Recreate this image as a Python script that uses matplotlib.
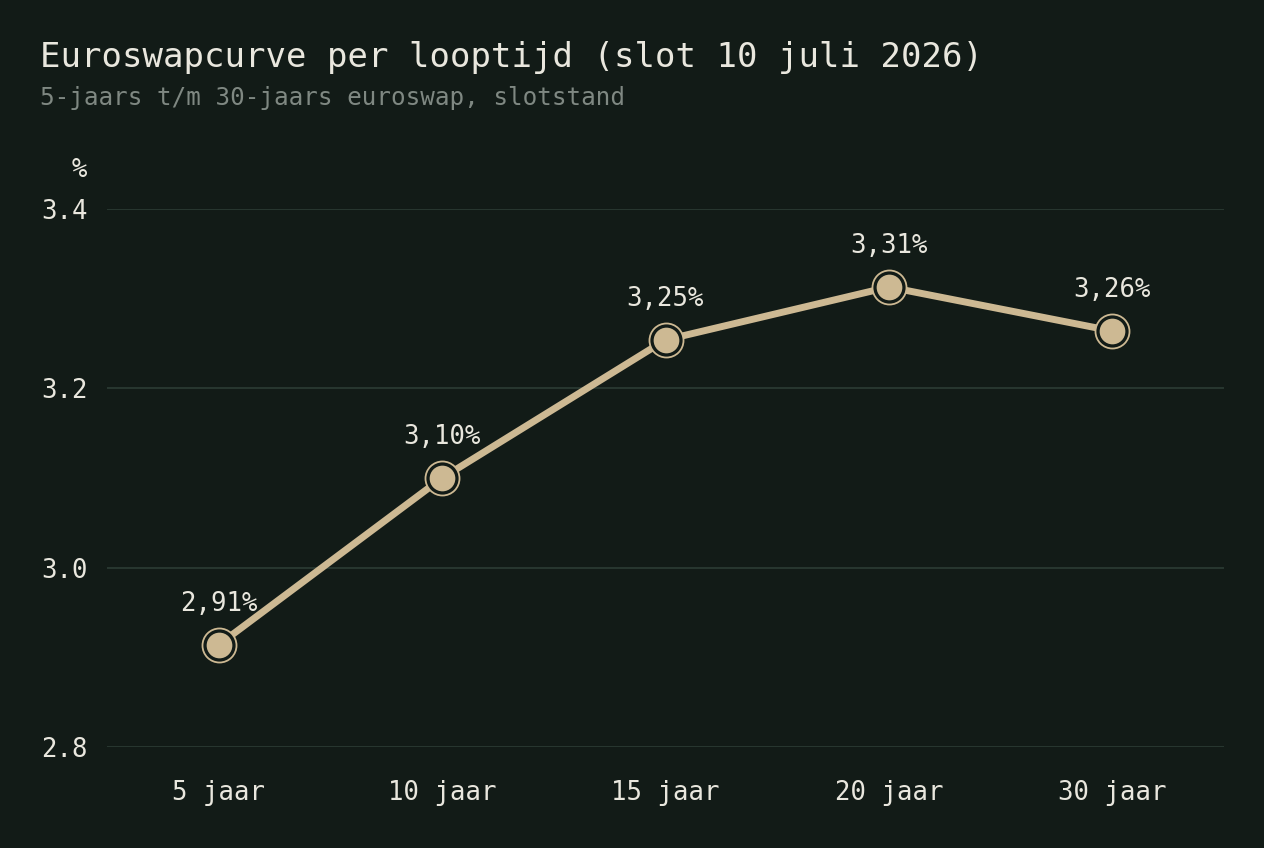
import matplotlib
matplotlib.use("Agg")
import matplotlib.pyplot as plt

# =========================================================
# DATA
# =========================================================
maturities = ["5 jaar", "10 jaar", "15 jaar", "20 jaar", "30 jaar"]
swap_rates = [2.914, 3.100, 3.254, 3.313, 3.264]
y_ticks = [2.8, 3.0, 3.2, 3.4]

TITLE = "Euroswapcurve per looptijd (slot 10 juli 2026)"
SUBTITLE = "5-jaars t/m 30-jaars euroswap, slotstand"

# =========================================================
# STYLE
# =========================================================
BG = "#121b17"
TAN = "#cdb993"
TEXT = "#e9e7de"
SUBTEXT = "#7f8882"
GRID = "#2c3c34"

plt.rcParams.update({
    "font.family": "DejaVu Sans Mono",
    "font.size": 18,
})

fig = plt.figure(figsize=(12.64, 8.48), dpi=100, facecolor=BG)
ax = fig.add_axes([107 / 1264, 1 - 747 / 848, (1224 - 107) / 1264, (747 - 209) / 848])
ax.set_facecolor(BG)

x = list(range(len(maturities)))

ax.plot(x, swap_rates, color=TAN, linewidth=5.0, solid_capstyle="round", zorder=3, clip_on=False)
# outer ring
ax.plot(x, swap_rates, linestyle="none", marker="o", markersize=24.5,
        markerfacecolor=BG, markeredgecolor=TAN, markeredgewidth=1.3, zorder=4, clip_on=False)
# inner fill
ax.plot(x, swap_rates, linestyle="none", marker="o", markersize=18.5,
        markerfacecolor=TAN, markeredgecolor="none", zorder=5, clip_on=False)

for xi, v in zip(x, swap_rates):
    ax.annotate(f"{v:.2f}%".replace(".", ","), (xi, v), xytext=(0, 29.5),
                textcoords="offset points", ha="center", va="center",
                color=TEXT, fontsize=18.5, zorder=6)

ax.set_xlim(-0.5, 4.5)
ax.set_ylim(2.8, 3.4)
ax.set_xticks(x)
ax.set_xticklabels(maturities)
ax.set_yticks(y_ticks)
ax.set_yticklabels([f"{t:.1f}" for t in y_ticks])

ax.tick_params(axis="both", length=0, colors=TEXT, labelsize=18.5)
ax.tick_params(axis="x", pad=24)
ax.tick_params(axis="y", pad=14)

ax.grid(True, axis="y", color=GRID, linewidth=1.2)
ax.grid(False, axis="x")
for s in ax.spines.values():
    s.set_visible(False)

fig.text(40 / 1264, 1 - 58 / 848, TITLE, color=TEXT, fontsize=24.5, ha="left", va="center")
fig.text(40 / 1264, 1 - 98 / 848, SUBTITLE, color=SUBTEXT, fontsize=17.5, ha="left", va="center")
fig.text(87 / 1264, 1 - 170 / 848, "%", color=TEXT, fontsize=18.5, ha="right", va="center")

fig.savefig("out.png", dpi=100, facecolor=BG)
